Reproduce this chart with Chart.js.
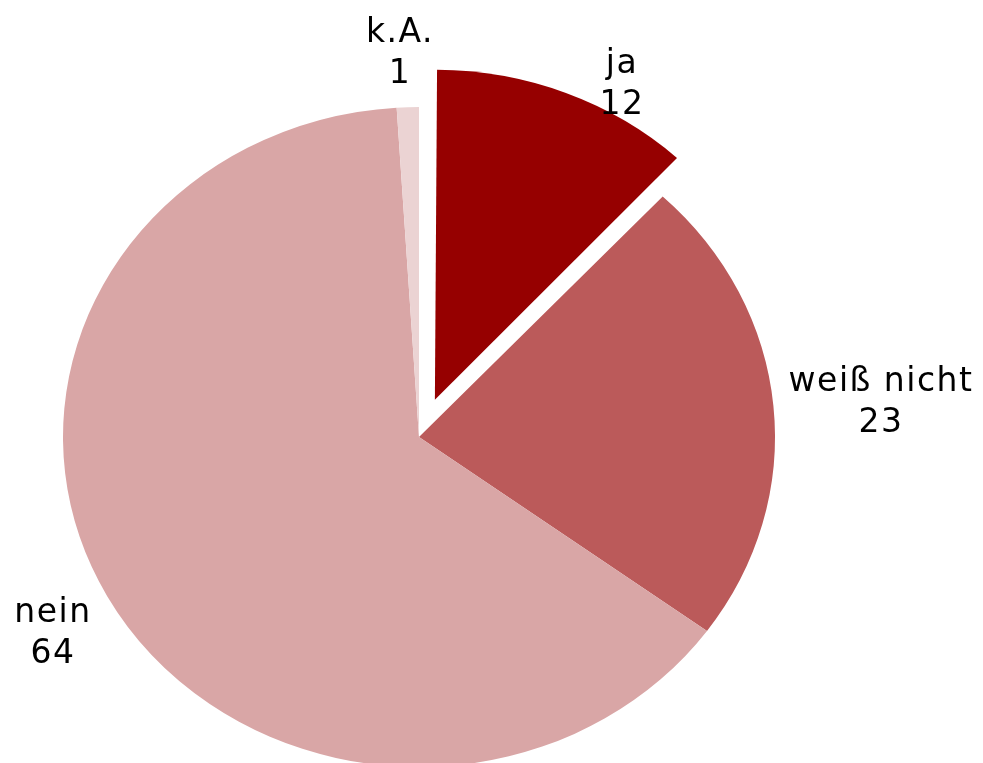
<!DOCTYPE html>
<html lang="de">
<head>
<meta charset="UTF-8" />
<title>Umfrage</title>
<script src="https://cdn.jsdelivr.net/npm/chart.js@4.4.0/dist/chart.umd.min.js"></script>
<style>
  body { margin: 0; background: #fff; }
</style>
</head>
<body>
<canvas id="myChart" width="983" height="763"></canvas>
<script>
const labels = ['ja', 'weiß nicht', 'nein', 'k.A.'];
const values = [12, 23, 64, 1];

const colors = ['#960000', '#bb5a5a', '#d9a6a6', '#ebd3d3'];
// where each label sits, px from the pie centre (centre of text, first baseline)
const labelSpots = [[203, -364], [462, -46], [-366, 185], [-19, -395]];
// the original pie is a bit wider than tall
const stretchX = 356 / 330;
// exploded slice distance in px (chart.js divides arc offset by 4)
const pull = 40;

// chart.js also grows the radius of an offset arc, undo that
const keepRadius = {
  id: 'keepRadius',
  afterDatasetUpdate(chart, args) {
    args.meta.data.forEach(arc => {
      const off = (arc.options.offset || 0) / 4;
      if (!off) return;
      const circ = arc.endAngle - arc.startAngle;
      arc.outerRadius -= off * (1 - Math.sin(Math.min(Math.PI, circ)));
    });
  }
};

const ellipse = {
  id: 'ellipse',
  beforeDatasetsDraw(chart) {
    const arc = chart.getDatasetMeta(0).data[0];
    const ctx = chart.ctx;
    ctx.save();
    ctx.translate(arc.x, 0);
    ctx.scale(stretchX, 1);
    ctx.translate(-arc.x, 0);
  },
  afterDatasetsDraw(chart) {
    chart.ctx.restore();
  }
};

const sliceLabels = {
  id: 'sliceLabels',
  afterDraw(chart) {
    const ctx = chart.ctx;
    const meta = chart.getDatasetMeta(0);
    ctx.save();
    ctx.font = '33px "DejaVu Sans"';
    ctx.letterSpacing = '1.5px';
    ctx.fillStyle = '#000';
    ctx.textAlign = 'center';
    meta.data.forEach((arc, i) => {
      const x = arc.x + labelSpots[i][0];
      const y = arc.y + labelSpots[i][1];
      ctx.fillText(labels[i], x, y);
      ctx.fillText(String(values[i]), x, y + 41);
    });
    ctx.restore();
  }
};

const ctx = document.getElementById('myChart').getContext('2d');
const myChart = new Chart(ctx, {
  type: 'pie',
  data: {
    labels: labels,
    datasets: [{
      data: values,
      backgroundColor: colors,
      borderWidth: 0,
      offset: [pull * 4, 0, 0, 0]
    }]
  },
  options: {
    responsive: false,
    animation: false,
    radius: 330,
    layout: { padding: { left: 0, right: 145, top: 111, bottom: 0 } },
    plugins: {
      legend: { display: false },
      tooltip: { enabled: false }
    }
  },
  plugins: [keepRadius, ellipse, sliceLabels]
});
</script>
</body>
</html>
